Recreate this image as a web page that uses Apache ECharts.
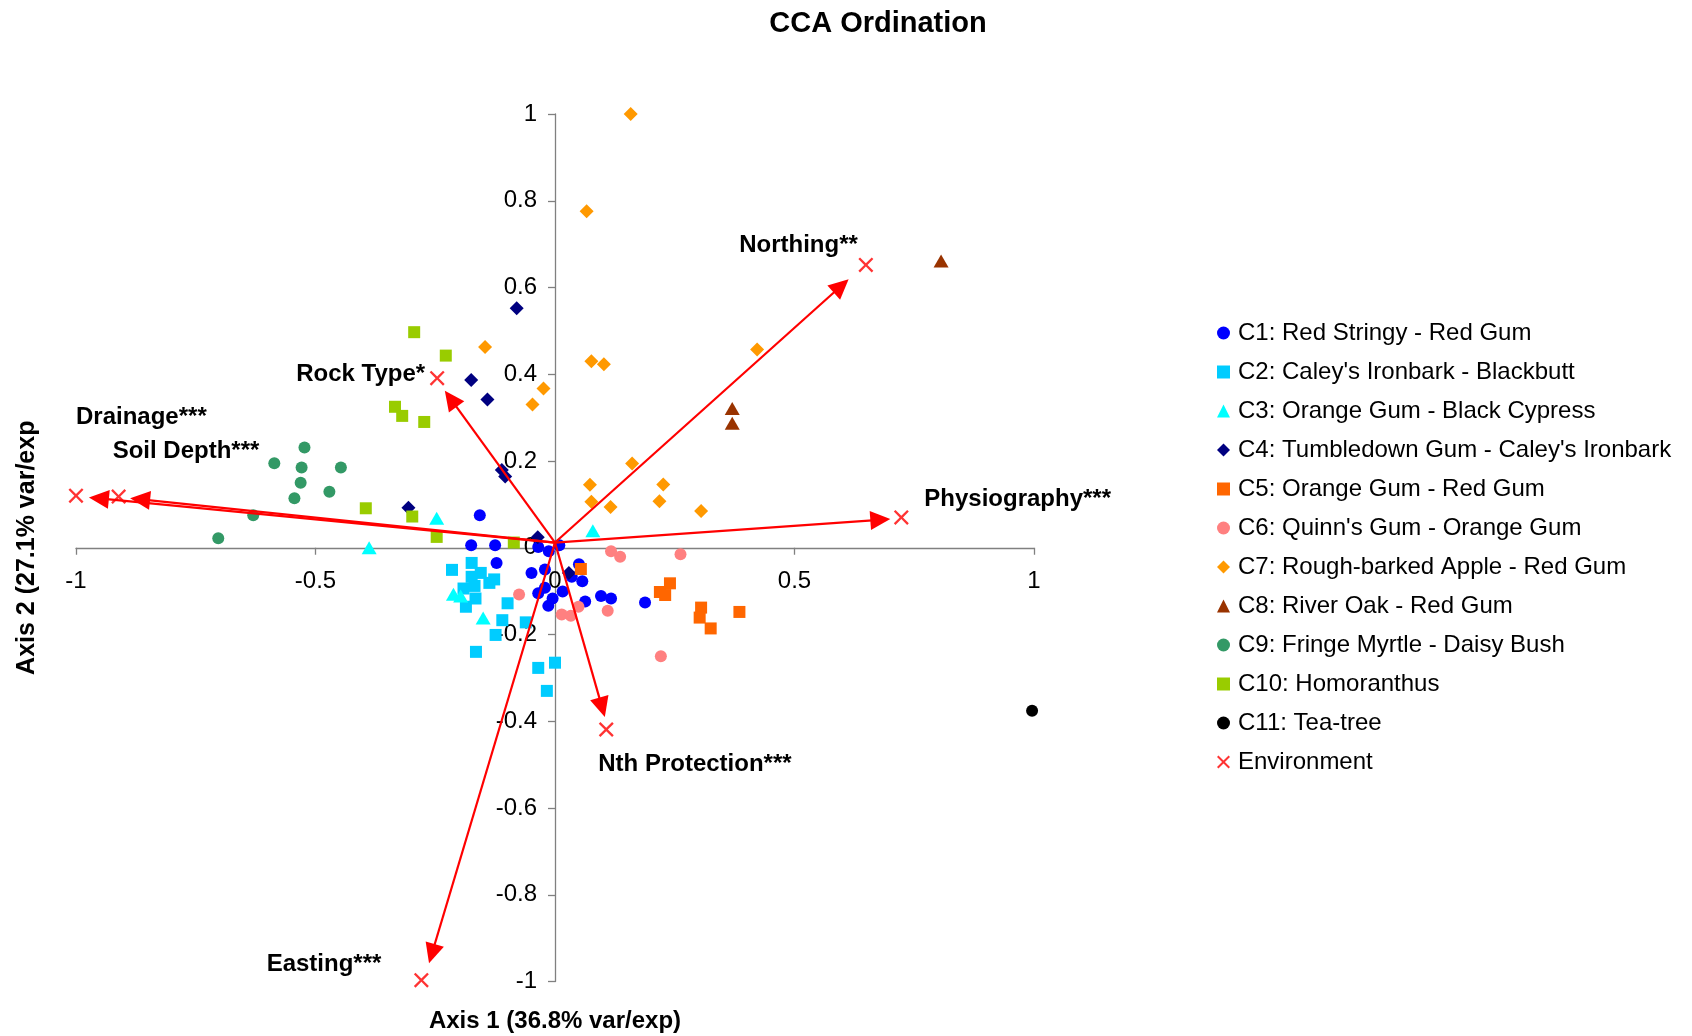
<!DOCTYPE html>
<html>
<head>
<meta charset="utf-8">
<script src="https://cdn.jsdelivr.net/npm/echarts@6/dist/echarts.min.js"></script>
<style>
html, body { margin: 0; padding: 0; background: #ffffff; }
#chart { width: 1692px; height: 1036px; }
</style>
</head>
<body>
<div id="chart"></div>
<script>
// ---------------- DATA ----------------
const chartTitle = 'CCA Ordination';
const xAxisName = 'Axis 1 (36.8% var/exp)';
const yAxisName = 'Axis 2 (27.1% var/exp';

const groupNames = [
  'C1: Red Stringy - Red Gum',
  "C2: Caley's Ironbark - Blackbutt",
  'C3: Orange Gum - Black Cypress',
  "C4: Tumbledown Gum - Caley's Ironbark",
  'C5: Orange Gum - Red Gum',
  "C6: Quinn's Gum - Orange Gum",
  'C7: Rough-barked Apple - Red Gum',
  'C8: River Oak - Red Gum',
  'C9: Fringe Myrtle - Daisy Bush',
  'C10: Homoranthus',
  'C11: Tea-tree'
];
const envSeriesName = 'Environment';

const c1X = [-0.157, -0.175, -0.125, -0.122, -0.049, -0.021, -0.035, -0.013, 0.009, 0.050, 0.035, 0.057, 0.016, -0.021, -0.035, -0.005, -0.014, 0.063, 0.096, 0.117, 0.188];
const c1Y = [0.075, 0.006, 0.006, -0.035, -0.058, -0.050, 0.002, -0.008, 0.006, -0.038, -0.067, -0.077, -0.101, -0.092, -0.105, -0.117, -0.134, -0.124, -0.111, -0.117, -0.126];

const c2X = [-0.215, -0.174, -0.155, -0.174, -0.168, -0.191, -0.127, -0.137, -0.166, -0.186, -0.099, -0.110, -0.061, -0.124, -0.165, -0.035, 0.000, -0.017];
const c2Y = [-0.051, -0.035, -0.058, -0.067, -0.088, -0.094, -0.073, -0.081, -0.117, -0.136, -0.128, -0.167, -0.172, -0.201, -0.240, -0.277, -0.265, -0.330];

const c3X = [-0.388, -0.247, -0.212, -0.197, -0.150, 0.079];
const c3Y = [0.000, 0.068, -0.107, -0.111, -0.162, 0.039];

const c4X = [-0.080, -0.175, -0.141, -0.111, -0.104, -0.306, -0.036, 0.029];
const c4Y = [0.552, 0.387, 0.342, 0.179, 0.164, 0.092, 0.024, -0.058];

const c5X = [0.054, 0.240, 0.219, 0.230, 0.305, 0.302, 0.325, 0.385];
const c5Y = [-0.049, -0.082, -0.102, -0.109, -0.138, -0.161, -0.186, -0.148];

const c6X = [0.117, 0.136, 0.262, -0.075, 0.014, 0.033, 0.049, 0.110, 0.221];
const c6Y = [-0.008, -0.021, -0.015, -0.108, -0.154, -0.157, -0.136, -0.145, -0.250];

const c7X = [0.158, 0.066, -0.146, 0.076, 0.102, -0.024, -0.047, 0.422, 0.161, 0.073, 0.226, 0.076, 0.116, 0.218, 0.305];
const c7Y = [1.000, 0.776, 0.463, 0.430, 0.423, 0.367, 0.330, 0.457, 0.194, 0.145, 0.146, 0.106, 0.094, 0.107, 0.085];

const c8X = [0.806, 0.370, 0.370];
const c8Y = [0.661, 0.321, 0.287];

const c9X = [-0.523, -0.586, -0.529, -0.447, -0.531, -0.471, -0.544, -0.630, -0.703];
const c9Y = [0.231, 0.195, 0.185, 0.185, 0.150, 0.129, 0.114, 0.075, 0.022];

const c10X = [-0.294, -0.228, -0.334, -0.319, -0.273, -0.395, -0.298, -0.247, -0.086];
const c10Y = [0.497, 0.443, 0.325, 0.304, 0.290, 0.091, 0.072, 0.025, 0.012];

const c11X = [0.996];
const c11Y = [-0.376];

// Environmental variables (X marker positions)
const envNames = ['Drainage***', 'Soil Depth***', 'Rock Type*', 'Northing**', 'Physiography***', 'Nth Protection***', 'Easting***'];
const envX = [-1.000, -0.911, -0.246, 0.649, 0.723, 0.107, -0.279];
const envY = [0.120, 0.118, 0.391, 0.652, 0.070, -0.419, -0.997];

// Arrow tips and common arrow origin
const arrowTipX = [-0.973, -0.887, -0.230, 0.613, 0.700, 0.104, -0.263];
const arrowTipY = [0.116, 0.114, 0.362, 0.619, 0.066, -0.390, -0.958];
const arrowStartX = 0.000;
const arrowStartY = 0.012;

// Axis scales
const xMin = -1, xMax = 1, xStep = 0.5;
const yMin = -1, yMax = 1, yStep = 0.2;

// ---------------- STYLE / LAYOUT ----------------
const W = 1692, H = 1036;
const GRID = { left: 76, right: 658, top: 114, bottom: 54.5 };
const FONT = "'Liberation Sans', Arial, Helvetica, sans-serif";
const groupStyles = [
  { color: '#0000FF', symbol: 'circle',   size: 12 },
  { color: '#00CCFF', symbol: 'rect',     size: 12 },
  { color: '#00FFFF', symbol: 'triangle', size: [15, 13] },
  { color: '#000080', symbol: 'diamond',  size: 14 },
  { color: '#FF6600', symbol: 'rect',     size: 12 },
  { color: '#FF8080', symbol: 'circle',   size: 12 },
  { color: '#FF9900', symbol: 'diamond',  size: 14 },
  { color: '#993300', symbol: 'triangle', size: [15, 13] },
  { color: '#339966', symbol: 'circle',   size: 12 },
  { color: '#99CC00', symbol: 'rect',     size: 12 },
  { color: '#000000', symbol: 'circle',   size: 12 }
];
const X_SYMBOL = 'path://M0,1.1L1.1,0L5,3.9L8.9,0L10,1.1L6.1,5L10,8.9L8.9,10L5,6.1L1.1,10L0,8.9L3.9,5Z';
const ENV_COLOR = '#FF0000';

// label placement for each environmental variable (relative to its X marker, px)
const envLabelLayout = [
  { align: 'left',  offset: [0, -78] },
  { align: 'left',  offset: [-6, -45] },
  { align: 'right', offset: [-12, -4] },
  { align: 'right', offset: [-8, -20] },
  { align: 'left',  offset: [23, -18] },
  { align: 'left',  offset: [-8, 35] },
  { align: 'right', offset: [-40, -16] }
];

// axes cross at zero: shift each axis from the grid edge to the zero of the other axis
const plotW = W - GRID.left - GRID.right;
const plotH = H - GRID.top - GRID.bottom;
const xAxisOffset = -plotH * (0 - yMin) / (yMax - yMin);
const yAxisOffset = -plotW * (0 - xMin) / (xMax - xMin);

// ---------------- BUILD ----------------
const groupX = [c1X, c2X, c3X, c4X, c5X, c6X, c7X, c8X, c9X, c10X, c11X];
const groupY = [c1Y, c2Y, c3Y, c4Y, c5Y, c6Y, c7Y, c8Y, c9Y, c10Y, c11Y];

const series = groupNames.map((name, g) => ({
  name: name,
  type: 'scatter',
  z: 2,
  symbol: groupStyles[g].symbol,
  symbolSize: groupStyles[g].size,
  itemStyle: { color: groupStyles[g].color, opacity: 1 },
  data: groupX[g].map((x, i) => [x, groupY[g][i]]),
  emphasis: { disabled: true }
}));

// arrows + variable labels (custom series using the axis scales)
series.push({
  name: 'arrows',
  type: 'custom',
  z: 3,
  silent: true,
  clip: false,
  encode: { x: [0, 2, 4], y: [1, 3, 5] },
  data: arrowTipX.map((x, i) => [arrowStartX, arrowStartY, x, arrowTipY[i], envX[i], envY[i]]),
  renderItem: function (params, api) {
    const i = params.dataIndex;
    const s = api.coord([api.value(0), api.value(1)]);
    const e = api.coord([api.value(2), api.value(3)]);
    const m = api.coord([api.value(4), api.value(5)]);
    const dx = e[0] - s[0], dy = e[1] - s[1];
    const L = Math.sqrt(dx * dx + dy * dy);
    const ux = dx / L, uy = dy / L;
    const headLen = 20, headHalf = 9.5;
    const bx = e[0] - ux * headLen, by = e[1] - uy * headLen;
    const lay = envLabelLayout[i];
    return {
      type: 'group',
      children: [
        { type: 'line', shape: { x1: s[0], y1: s[1], x2: bx + ux * 2, y2: by + uy * 2 },
          style: { stroke: ENV_COLOR, lineWidth: 2.2 } },
        { type: 'polygon', shape: { points: [
            [e[0], e[1]],
            [bx - uy * headHalf, by + ux * headHalf],
            [bx + uy * headHalf, by - ux * headHalf]
          ] }, style: { fill: ENV_COLOR } },
        { type: 'text', x: m[0] + lay.offset[0], y: m[1] + lay.offset[1], z2: 10,
          style: { text: envNames[i], fill: '#000000', fontFamily: FONT, fontWeight: 'bold', fontSize: 24,
                   align: lay.align, verticalAlign: 'middle' } }
      ]
    };
  }
});

series.push({
  name: envSeriesName,
  type: 'scatter',
  z: 4,
  clip: false,
  symbol: X_SYMBOL,
  symbolSize: 15,
  itemStyle: { color: ENV_COLOR },
  emphasis: { disabled: true },
  data: envX.map((x, i) => ({ value: [x, envY[i]], name: envNames[i] }))
});

const axisLineStyle = { color: '#808080', width: 1.3 };

const option = {
  animation: false,
  backgroundColor: '#ffffff',
  textStyle: { fontFamily: FONT },
  title: {
    text: chartTitle,
    left: 878,
    top: 9,
    padding: 0,
    textAlign: 'center',
    textVerticalAlign: 'top',
    textStyle: { fontFamily: FONT, fontWeight: 'bold', fontSize: 29, color: '#000000' }
  },
  grid: { left: GRID.left, right: GRID.right, top: GRID.top, bottom: GRID.bottom, containLabel: false, outerBoundsMode: 'none' },
  legend: {
    orient: 'vertical',
    left: 1217,
    top: 321,
    padding: 0,
    itemGap: 15,
    itemWidth: 13,
    itemHeight: 13,
    selectedMode: false,
    data: groupNames.concat([envSeriesName]),
    textStyle: { fontFamily: FONT, fontSize: 24, color: '#000000', lineHeight: 24, padding: [0, 0, 0, 3] }
  },
  xAxis: {
    type: 'value',
    position: 'bottom',
    offset: xAxisOffset,
    min: xMin, max: xMax, interval: xStep,
    name: xAxisName,
    nameLocation: 'middle',
    nameGap: 462,
    nameTextStyle: { fontFamily: FONT, fontWeight: 'bold', fontSize: 24, color: '#000000' },
    axisLine: { show: true, onZero: false, lineStyle: axisLineStyle },
    axisTick: { show: true, inside: false, length: 7, lineStyle: axisLineStyle },
    axisLabel: { color: '#000000', fontSize: 24, fontFamily: FONT, margin: 22, hideOverlap: false },
    splitLine: { show: false }
  },
  yAxis: {
    type: 'value',
    position: 'left',
    offset: yAxisOffset,
    min: yMin, max: yMax, interval: yStep,
    name: yAxisName,
    nameLocation: 'middle',
    nameGap: 515,
    nameTextStyle: { fontFamily: FONT, fontWeight: 'bold', fontSize: 25, color: '#000000' },
    axisLine: { show: true, onZero: false, lineStyle: axisLineStyle },
    axisTick: { show: true, inside: false, length: 7, lineStyle: axisLineStyle },
    axisLabel: { color: '#000000', fontSize: 24, fontFamily: FONT, margin: 18, hideOverlap: false },
    splitLine: { show: false }
  },
  series: series
};

const chart = echarts.init(document.getElementById('chart'), null, { renderer: 'canvas' });
chart.setOption(option);
</script>
</body>
</html>
